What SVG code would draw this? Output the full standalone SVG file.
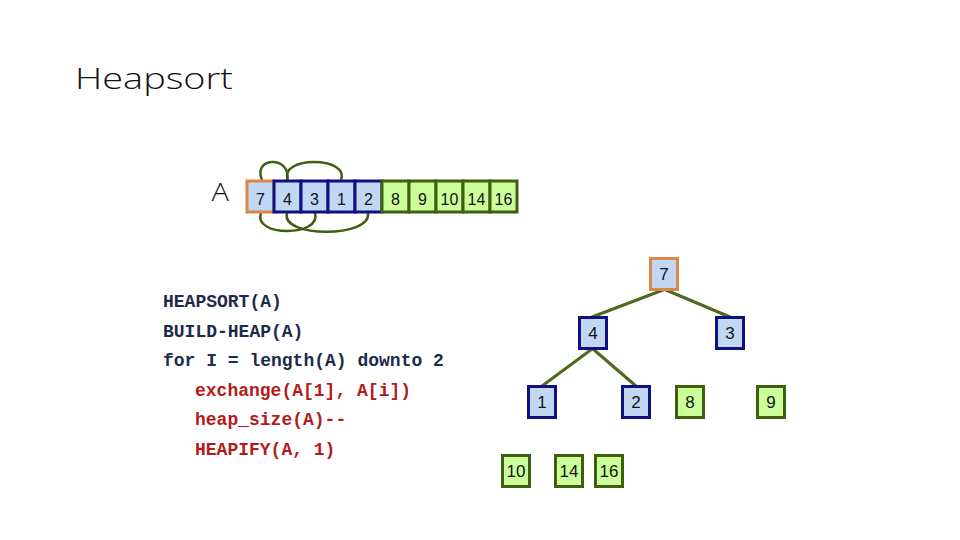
<svg xmlns="http://www.w3.org/2000/svg" width="960" height="540" viewBox="0 0 960 540">
<style>
.title{font-family:"Open Sans","Liberation Sans",sans-serif;font-weight:300;fill:#111}
.num{font-family:"Liberation Sans",Arial,sans-serif;font-size:16px;fill:#111;text-anchor:middle}
.tn{font-size:17px}
.code{font-family:"Liberation Mono","Courier New",monospace;font-size:18px;font-weight:bold}
.nv{fill:#1C2B4B}
.rd{fill:#B31B1B}
.blue{fill:#C2D7F4;stroke:#101080;stroke-width:3}
.org{fill:#C2D7F4;stroke:#DD8448;stroke-width:3}
.grn{fill:#CCFF99;stroke:#3F5F10;stroke-width:3}
.edge{stroke:#4F6A1E;stroke-width:3;fill:none;stroke-linecap:round}
.arc{stroke:#3F5F10;stroke-width:2.5;fill:none}
</style>
<rect width="960" height="540" fill="#fff"/>
<text class="title" x="75" y="89" font-size="29" textLength="158" lengthAdjust="spacingAndGlyphs">Heapsort</text>
<text class="title" x="211.5" y="201" font-size="25" textLength="17.5" lengthAdjust="spacingAndGlyphs">A</text>

<g id="connectors">
  <path class="arc" d="M262,180 C252,156 292,156 287,180"/>
  <path class="arc" d="M288,180 C278,156 350,156 341,180"/>
  <path class="arc" d="M261,213 C252,237 322,237 315,213"/>
  <path class="arc" d="M287,213 C280,238 372,238 368,213"/>
  <line class="edge" x1="663" y1="290" x2="592" y2="317"/>
  <line class="edge" x1="666" y1="290" x2="730" y2="317"/>
  <line class="edge" x1="592" y1="349" x2="542" y2="386"/>
  <line class="edge" x1="593" y1="349" x2="636" y2="386" stroke="#2F4210"/>
</g>

<g id="array">
  <g id="a1"><rect class="org" x="247" y="181" width="27" height="31"/><text class="num" x="260.5" y="204.5">7</text></g>
  <g id="a2"><rect class="blue" x="274" y="181" width="27" height="31"/><text class="num" x="287.5" y="204.5">4</text></g>
  <g id="a3"><rect class="blue" x="301" y="181" width="27" height="31"/><text class="num" x="314.5" y="204.5">3</text></g>
  <g id="a4"><rect class="blue" x="328" y="181" width="27" height="31"/><text class="num" x="341.5" y="204.5">1</text></g>
  <g id="a5"><rect class="blue" x="355" y="181" width="27" height="31"/><text class="num" x="368.5" y="204.5">2</text></g>
  <g id="a6"><rect class="grn" x="382" y="181" width="27" height="31"/><text class="num" x="395.5" y="204.5">8</text></g>
  <g id="a7"><rect class="grn" x="409" y="181" width="27" height="31"/><text class="num" x="422.5" y="204.5">9</text></g>
  <g id="a8"><rect class="grn" x="436" y="181" width="27" height="31"/><text class="num" x="449.5" y="204.5">10</text></g>
  <g id="a9"><rect class="grn" x="463" y="181" width="27" height="31"/><text class="num" x="476.5" y="204.5">14</text></g>
  <g id="a10"><rect class="grn" x="490" y="181" width="27" height="31"/><text class="num" x="503.5" y="204.5">16</text></g>
</g>

<g id="code">
  <text class="code nv" x="163" y="307">HEAPSORT(A)</text>
  <text class="code nv" x="163" y="336.5">BUILD-HEAP(A)</text>
  <text class="code nv" x="163" y="366">for I = length(A) downto 2</text>
  <text class="code rd" x="195" y="395.5">exchange(A[1], A[i])</text>
  <text class="code rd" x="195" y="425">heap_size(A)--</text>
  <text class="code rd" x="195" y="454.5">HEAPIFY(A, 1)</text>
</g>

<g id="n7"><rect class="org" x="650.5" y="258.5" width="27" height="31"/><text class="num tn" x="664" y="280">7</text></g>
<g id="n4"><rect class="blue" x="579.5" y="317.5" width="27" height="31"/><text class="num tn" x="593" y="339">4</text></g>
<g id="n3"><rect class="blue" x="716.5" y="317.5" width="27" height="31"/><text class="num tn" x="730" y="339">3</text></g>
<g id="n1"><rect class="blue" x="528.5" y="386.5" width="27" height="31"/><text class="num tn" x="542" y="408">1</text></g>
<g id="n2"><rect class="blue" x="622.5" y="386.5" width="27" height="31"/><text class="num tn" x="636" y="408">2</text></g>
<g id="n8"><rect class="grn" x="676.5" y="386.5" width="27" height="31"/><text class="num tn" x="690" y="408">8</text></g>
<g id="n9"><rect class="grn" x="757.5" y="386.5" width="27" height="31"/><text class="num tn" x="771" y="408">9</text></g>
<g id="n10"><rect class="grn" x="502.5" y="455.5" width="27" height="31"/><text class="num tn" x="516" y="477">10</text></g>
<g id="n14"><rect class="grn" x="555.5" y="455.5" width="27" height="31"/><text class="num tn" x="569" y="477">14</text></g>
<g id="n16"><rect class="grn" x="595.5" y="455.5" width="27" height="31"/><text class="num tn" x="609" y="477">16</text></g>
</svg>
